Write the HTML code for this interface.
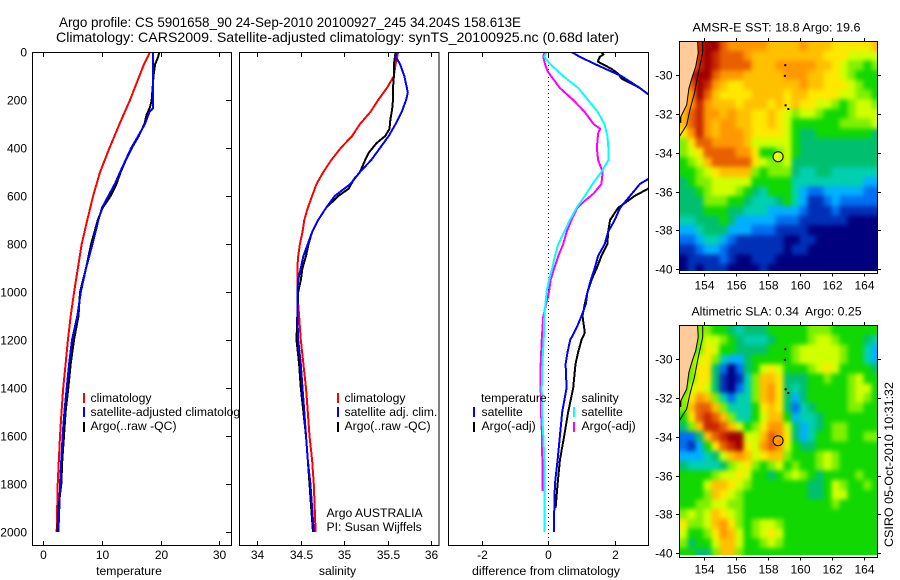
<!DOCTYPE html>
<html lang="en">
<head>
<meta charset="utf-8">
<title>Argo profile</title>
<style>
html,body{margin:0;padding:0;background:#fff;width:900px;height:580px;overflow:hidden}
svg{display:block}
text{font-family:"Liberation Sans",sans-serif;font-size:12.2px;fill:#000}
.t14{font-size:14px}
.mid{text-anchor:middle}
.end{text-anchor:end}
.tl{font-size:12px}
</style>
</head>
<body>
<svg id="fig" xmlns="http://www.w3.org/2000/svg" width="900" height="580" viewBox="0 0 900 580">
<defs>
<clipPath id="clipT"><rect x="32" y="52" width="199" height="494"/></clipPath>
<clipPath id="clipS"><rect x="239" y="52" width="200" height="494"/></clipPath>
<clipPath id="clipD"><rect x="448" y="52" width="200" height="494"/></clipPath>
<clipPath id="clipM1"><rect x="679" y="41" width="198" height="230"/></clipPath>
<clipPath id="clipM2"><rect x="679" y="325" width="198" height="230"/></clipPath>
<filter id="soft" filterUnits="userSpaceOnUse" x="640" y="0" width="260" height="580" color-interpolation-filters="sRGB"><feGaussianBlur stdDeviation="2.5"/></filter>
</defs>
<rect width="900" height="580" fill="#fff"/>
<text class="t14" x="59" y="27" textLength="462" lengthAdjust="spacingAndGlyphs">Argo profile: CS 5901658_90 24-Sep-2010 20100927_245 34.204S 158.613E</text>
<text class="t14" x="56" y="42" textLength="563" lengthAdjust="spacingAndGlyphs">Climatology: CARS2009. Satellite-adjusted climatology: synTS_20100925.nc (0.68d later)</text>

<g id="panelT">
<rect x="32.5" y="52.5" width="199" height="493" fill="#fff"/>
<g id="linesT" clip-path="url(#clipT)"></g>
<rect x="32.5" y="52.5" width="199" height="493" fill="none" stroke="#000"/>
<g id="ticksT"></g>
<text class="mid" x="129" y="575">temperature</text>
<rect x="83" y="393" width="2" height="10" fill="#f00"/>
<rect x="83" y="407" width="2" height="10" fill="#00f"/>
<rect x="83" y="422" width="2" height="10" fill="#000"/>
<text x="90.5" y="402">climatology</text>
<text x="90.5" y="416">satellite-adjusted climatology</text>
<text x="90.5" y="430">Argo(..raw -QC)</text>
</g>

<g id="panelS">
<rect x="239.5" y="52.5" width="199.5" height="493" fill="#fff"/>
<g id="linesS" clip-path="url(#clipS)"></g>
<rect x="239.5" y="52.5" width="199.5" height="493" fill="none" stroke="#000"/>
<g id="ticksS"></g>
<text class="mid" x="337.5" y="575">salinity</text>
<rect x="337" y="393" width="2" height="10" fill="#f00"/>
<rect x="337" y="407" width="2" height="10" fill="#00f"/>
<rect x="337" y="422" width="2" height="10" fill="#000"/>
<text x="344.5" y="402">climatology</text>
<text x="344.5" y="416">satellite adj. clim.</text>
<text x="344.5" y="430">Argo(..raw -QC)</text>
<text x="326.5" y="517">Argo AUSTRALIA</text>
<text x="326.5" y="531">PI: Susan Wijffels</text>
</g>

<g id="panelD">
<rect x="448.5" y="52.5" width="200" height="493" fill="#fff"/>
<line x1="548.5" x2="548.5" y1="53" y2="545" stroke="#000" stroke-dasharray="1 3"/>
<g id="linesD" clip-path="url(#clipD)"></g>
<rect x="448.5" y="52.5" width="200" height="493" fill="none" stroke="#000"/>
<g id="ticksD"></g>
<text class="mid" x="546" y="575" textLength="148" lengthAdjust="spacingAndGlyphs">difference from climatology</text>
<text x="481" y="402">temperature</text>
<rect x="473" y="407" width="2" height="10" fill="#00f"/>
<rect x="473" y="422" width="2" height="10" fill="#000"/>
<text x="481.5" y="416">satellite</text>
<text x="481.5" y="430">Argo(-adj)</text>
<text x="581.5" y="402">salinity</text>
<rect x="573" y="407" width="2" height="10" fill="#0ff"/>
<rect x="573" y="422" width="2" height="10" fill="#f0f"/>
<text x="581.5" y="416">satellite</text>
<text x="581.5" y="430">Argo(-adj)</text>
</g>

<g id="map1">
<text class="mid" x="776.5" y="31.5" textLength="168" lengthAdjust="spacingAndGlyphs">AMSR-E SST: 18.8 Argo: 19.6</text>
<g clip-path="url(#clipM1)"><g id="cellsM1" filter="url(#soft)"></g></g>
<g id="overM1" clip-path="url(#clipM1)"></g>
<rect x="679.5" y="41.5" width="198" height="232" fill="none" stroke="#000"/>
<g id="ticksM1"></g>
</g>

<g id="map2">
<text class="mid" x="776.5" y="315.5" xml:space="preserve" textLength="170" lengthAdjust="spacingAndGlyphs">Altimetric SLA: 0.34  Argo: 0.25</text>
<g clip-path="url(#clipM2)"><g id="cellsM2" filter="url(#soft)"></g></g>
<g id="overM2" clip-path="url(#clipM2)"></g>
<rect x="679.5" y="325.5" width="198" height="232" fill="none" stroke="#000"/>
<g id="ticksM2"></g>
</g>

<text transform="translate(893 547) rotate(-90)" textLength="165" lengthAdjust="spacingAndGlyphs">CSIRO 05-Oct-2010 10:31:32</text>
</svg>

<script>
// ---------- Temperature profiles ----------
const tempClimDepth = [0,50,100,150,200,300,400,500,600,700,800,900,1000,1100,1200,1300,1400,1500,1600,1800,2000];
const tempClim = [18.2,17.2,16.4,15.6,14.8,13.0,11.3,9.7,8.5,7.5,6.55,5.9,5.25,4.67,4.2,3.8,3.4,3.1,2.85,2.45,2.28];
const tempSatDepth = [0,235,250,300,350,400,500,550,600,650,700,800,900,1000,1100,1200,1300,1400,1500,1600,1700,1800,1900,2000];
const tempSat = [18.7,18.7,18.1,17.35,16.2,15,13.1,12.2,11.1,10,9.4,8.4,7.3,6.4,5.8,4.9,4.4,4,3.6,3.3,3.07,2.85,2.73,2.57];
const tempArgoDepth = [0,20,50,100,200,230,260,300,350,400,450,500,550,600,650,700,800,900,1000,1100,1200,1300,1400,1500,1600,1700,1800,1900,2000];
const tempArgo = [19.8,19.6,19.1,18.8,18.5,18.2,17.65,17.25,16.3,15.1,14.1,13.2,12.5,11.5,10.1,9.3,8.15,7.3,6.26,6,5.24,4.67,4.27,3.8,3.53,3.25,3.07,2.57,2.4];

// ---------- Salinity profiles ----------
const salClimDepth = [0,50,100,150,200,250,300,350,400,450,500,550,600,650,700,750,800,850,900,1000,1100,1200,1300,1400,1500,1600,1700,1800,1900,2000];
const salClim = [35.62,35.59,35.57,35.49,35.39,35.3,35.18,35.09,34.96,34.85,34.76,34.68,34.63,34.58,34.54,34.52,34.49,34.47,34.46,34.46,34.48,34.5,34.53,34.56,34.58,34.6,34.63,34.65,34.66,34.67];
const salSatDepth = [0,20,50,100,150,170,200,250,300,350,400,450,500,550,600,650,700,750,800,850,900,950,1000,1100,1200,1300,1400,1500,1600,1700,1800,1900,2000];
const salSat = [35.6,35.59,35.64,35.69,35.72,35.73,35.71,35.66,35.59,35.51,35.41,35.31,35.18,35.07,34.89,34.79,34.7,34.63,34.58,34.53,34.5,34.47,34.46,34.46,34.47,34.5,34.52,34.54,34.56,34.58,34.61,34.63,34.65];
const salArgoDepth = [0,50,100,150,200,240,280,320,350,380,420,450,500,530,570,600,650,700,750,800,850,900,950,1000,1100,1200,1300,1400,1500,1600,1700,1800,1900,2000];
const salArgo = [35.59,35.57,35.57,35.56,35.56,35.55,35.53,35.52,35.47,35.37,35.28,35.24,35.18,35.11,35.05,34.93,34.79,34.7,34.63,34.59,34.56,34.52,34.5,34.47,34.46,34.45,34.48,34.5,34.53,34.56,34.58,34.6,34.62,34.64];

// ---------- Differences from climatology ----------
const diffTempSatDepth = [0,20,50,100,150,175,200,300,400,500,530,550,600,650,700,750,800,850,900,950,1000,1050,1100,1150,1200,1250,1300,1400,1500,1600,1700,1800,1900,2000];
const diffTempSat = [0.7,0.95,1.4,2.2,2.76,3,3.7,4.35,3.7,3.4,3,2.76,2.46,2.16,2,1.8,1.7,1.5,1.4,1.28,1.18,1.13,1,0.85,0.66,0.58,0.52,0.55,0.42,0.35,0.28,0.2,0.18,0.17];
const diffTempArgoDepth = [0,10,20,40,70,90,110,150,175,200,300,400,500,570,600,650,700,750,800,850,900,950,1000,1050,1100,1150,1170,1200,1250,1300,1400,1500,1600,1700,1800,1900];
const diffTempArgo = [1.6,1.66,1.55,1.49,1.9,2.1,2.2,2.76,3,3.7,4.25,3.8,3.5,3,2.6,2.1,1.86,1.8,1.78,1.6,1.46,1.3,1.18,1.1,1.03,1.08,1.1,1,0.9,0.82,0.75,0.6,0.48,0.35,0.28,0.22];
const diffSalSatDepth = [0,20,50,100,150,200,250,300,350,400,450,500,550,600,650,700,750,800,850,900,950,1000,1100,1200,1300,1400,1500,1600,1700,1800,1900,2000];
const diffSalSat = [-0.05,-0.12,0.05,0.45,0.9,1.2,1.49,1.69,1.78,1.81,1.81,1.6,1.33,1.1,0.85,0.65,0.48,0.3,0.2,0.12,0.02,-0.05,-0.12,-0.14,-0.18,-0.2,-0.19,-0.15,-0.12,-0.12,-0.12,-0.11];
const diffSalArgoDepth = [0,20,50,80,100,150,200,250,300,320,340,400,450,500,550,590,620,650,700,750,800,850,900,950,1000,1060,1100,1200,1300,1400,1500,1600,1700,1830];
const diffSalArgo = [-0.12,-0.15,-0.1,-0.02,0.08,0.35,0.75,1.1,1.36,1.56,1.5,1.46,1.5,1.64,1.6,1.36,1.1,0.87,0.7,0.55,0.45,0.3,0.18,0.07,0.02,-0.08,-0.15,-0.2,-0.23,-0.23,-0.22,-0.19,-0.18,-0.18];

// ---------- Tick labels ----------
const depthTicks = [0,200,400,600,800,1000,1200,1400,1600,1800,2000];
const tempTicks = [0,10,20,30];
const salTicks = [34,34.5,35,35.5,36];
const diffTicks = [-2,0,2];
const lonTicks = [154,156,158,160,162,164];
const latTicks = [-30,-32,-34,-36,-38,-40];

// ---------- Map grids (0.5 degree cells, colour class 0-14) ----------
const sstGrid = [
[10,10,13,14,14,12,11,11,11,11,11,10,10,10,10,11,10,10,10,9,9,9,9,9,10],
[10,10,13,14,13,12,12,12,11,10,10,10,10,10,10,10,10,10,9,9,9,8,8,8,8],
[10,10,13,14,13,12,12,12,12,10,10,10,11,11,11,11,11,10,10,9,8,7,7,6,7],
[10,13,14,14,12,11,11,11,10,10,10,10,10,11,11,11,10,10,9,9,8,7,6,6,6],
[10,12,14,13,11,10,9,9,10,10,10,10,10,10,10,11,10,10,9,9,9,8,7,6,6],
[10,11,14,12,10,9,9,9,9,10,10,10,10,9,10,10,9,9,9,9,8,8,7,7,6],
[10,11,13,11,10,10,10,9,10,10,10,9,10,9,10,9,9,8,8,7,6,7,8,8,7],
[10,12,13,11,11,10,11,10,10,9,9,10,9,8,7,8,8,7,6,6,6,7,8,8,8],
[10,12,13,11,10,11,11,10,10,9,9,10,9,8,6,6,6,6,6,6,7,7,7,7,8],
[9,11,13,11,10,11,11,11,10,9,9,9,9,8,6,5,5,6,6,6,6,6,6,6,5],
[7,9,12,12,11,11,11,11,10,8,8,8,8,8,6,5,5,5,5,5,5,5,5,5,5],
[7,8,9,12,12,12,12,11,11,9,6,6,7,8,6,5,5,5,5,5,5,5,5,5,5],
[6,7,8,10,12,12,12,12,12,9,8,7,7,8,5,5,5,5,5,5,5,5,5,5,5],
[6,6,7,8,9,10,10,10,10,7,6,7,7,7,5,4,4,5,5,4,4,4,4,4,4],
[5,6,7,7,8,8,8,8,8,6,6,6,6,6,4,4,4,4,4,4,4,4,4,3,3],
[5,5,6,7,8,8,8,7,6,5,4,6,6,6,4,3,2,2,3,3,3,3,3,2,2],
[5,5,5,7,7,7,6,6,5,4,4,4,5,6,4,3,1,1,2,3,2,2,2,2,2],
[5,5,5,6,6,6,5,5,4,4,4,3,3,3,3,2,1,1,1,2,1,1,1,1,1],
[4,4,5,5,5,6,5,3,3,3,3,3,2,2,2,1,1,1,1,1,1,0,0,0,0],
[3,3,4,5,5,5,3,3,3,2,2,2,1,1,1,1,0,0,0,0,0,0,0,0,0],
[2,2,3,4,4,3,2,1,1,1,1,1,1,0,0,1,1,0,0,0,0,0,0,0,0],
[1,1,2,3,3,2,1,1,1,1,1,1,1,0,1,1,0,0,0,0,0,0,0,0,0],
[0,1,1,1,1,2,1,0,0,1,1,1,0,0,0,0,0,0,0,0,0,0,0,0,0],
[0,1,0,1,1,1,0,0,0,0,1,0,0,0,0,0,0,0,0,0,0,0,0,0,0]
];
const slaGrid = [
[6,6,7,7,6,6,5,4,5,5,5,6,6,6,6,6,7,7,7,6,6,6,6,6,6],
[6,6,7,8,8,7,6,5,4,4,4,5,6,6,6,6,7,8,8,7,6,6,6,5,4],
[6,6,7,9,8,6,6,5,5,5,5,6,6,6,7,8,8,8,8,8,7,6,6,4,3],
[6,7,8,9,7,4,3,3,5,6,6,6,6,6,7,8,8,8,8,8,7,6,6,4,3],
[6,7,9,9,5,2,0,2,5,6,8,9,8,6,6,6,7,8,9,8,6,6,6,6,5],
[6,7,9,9,5,1,0,1,4,7,10,10,9,5,5,5,6,6,7,6,6,7,8,6,6],
[6,8,9,8,5,1,0,2,4,7,10,11,9,5,4,5,6,6,6,6,6,7,8,8,6],
[7,9,11,10,7,4,2,4,4,7,10,11,9,5,3,5,6,6,6,6,6,7,8,7,6],
[7,10,12,12,10,7,4,4,4,6,9,10,9,5,2,4,5,6,6,6,6,7,7,6,6],
[6,9,12,13,12,10,7,4,4,6,8,10,10,6,3,4,4,5,6,6,6,6,6,6,6],
[5,7,10,13,13,12,10,8,6,7,9,11,11,8,5,3,4,5,6,7,7,6,6,6,6],
[2,2,5,10,12,13,14,14,8,8,10,12,11,9,5,3,4,6,6,7,7,6,6,7,7],
[2,1,3,6,9,12,13,14,9,8,11,12,11,8,6,5,5,6,6,6,6,6,6,6,6],
[3,3,3,4,5,8,10,11,10,8,9,10,10,7,6,6,6,7,8,7,6,6,6,6,6],
[5,4,4,4,4,5,7,8,9,7,6,7,8,6,7,6,6,7,8,7,6,6,6,6,6],
[6,6,6,6,7,8,8,9,8,6,6,5,6,7,8,7,6,5,6,6,6,6,7,6,6],
[6,6,6,8,10,10,9,8,7,6,6,6,6,6,6,6,5,5,6,8,7,6,6,7,6],
[6,6,6,7,10,9,8,7,6,6,6,6,6,6,6,6,5,5,6,8,8,6,6,6,6],
[6,6,7,7,8,8,7,7,6,6,6,6,6,6,6,6,6,6,6,7,6,6,6,6,6],
[7,8,7,8,10,9,8,7,6,6,6,6,6,6,6,6,6,6,6,6,6,6,6,6,6],
[9,7,7,8,10,11,9,7,6,7,8,8,7,6,6,6,6,6,6,6,6,6,6,6,6],
[8,6,6,7,9,11,10,8,6,7,8,9,8,6,6,6,6,6,6,6,6,6,6,6,6],
[7,5,6,6,8,10,10,8,6,6,7,8,7,6,6,6,6,6,6,6,6,6,6,6,6],
[6,6,5,5,7,10,10,7,6,6,6,6,6,6,6,6,6,6,6,6,6,6,6,6,6]
];
const colorClasses = ['#00007f','#0030b8','#0070f0','#00b0ff','#00d0b0','#00c070','#10d800','#80f000','#d0ff00','#ffe800','#ffc000','#ff9800','#e86000','#c82800','#a00000'];

// ---------- Geography (lon/lat) ----------
const coastLon = [153.58,153.62,153.46,153.25,153.04,152.9,152.54,152.44];
const coastLat = [-28.24,-28.86,-29.55,-30.07,-30.67,-31.53,-32.13,-32.3];
const isobathLon = [153.9,153.9,153.62,153.38,153.1,152.9,152.44];
const isobathLat = [-28.24,-28.86,-29.9,-30.93,-31.79,-32.56,-33.17];
const islandLon = [159.06,159.04,159.08,159.25];
const islandLat = [-29.48,-30.03,-31.55,-31.74];
const headlandLon = [152.5];
const headlandLat = [-32.3];
const floatLon = 158.613;
const floatLat = -34.204;

const NS = 'http://www.w3.org/2000/svg';
const tempX = v => 43.3 + 5.86 * v;
const salX = v => 257.3 + 87 * (v - 34);
const diffX = v => 548.3 + 33.2 * v;
const depthY = d => 52 + 0.24 * d;
const lonX = l => 704.3 + 16 * (l - 154);
const lat1Y = l => 75.3 + 19.37 * (-30 - l);
const lat2Y = l => 359.3 + 19.37 * (-30 - l);

function el(tag, parent, attrs) {
  const e = document.createElementNS(NS, tag);
  for (const k in attrs) e.setAttribute(k, attrs[k]);
  parent.appendChild(e);
  return e;
}
function byId(id) { return document.getElementById(id); }

function drawLine(groupId, name, xs, depths, xFn, color) {
  const pts = xs.map((v, i) => xFn(v).toFixed(1) + ',' + depthY(depths[i]).toFixed(1)).join(' ');
  const p = el('polyline', byId(groupId), {points: pts, fill: 'none', stroke: color, 'stroke-width': 2, 'shape-rendering': 'crispEdges', 'stroke-linejoin': 'round'});
  
  
}

drawLine('linesT', 'temperature-climatology-line', tempClim, tempClimDepth, tempX, '#f00');
drawLine('linesT', 'temperature-argo-line', tempArgo, tempArgoDepth, tempX, '#000');
drawLine('linesT', 'temperature-satellite-line', tempSat, tempSatDepth, tempX, '#00f');
drawLine('linesS', 'salinity-climatology-line', salClim, salClimDepth, salX, '#f00');
drawLine('linesS', 'salinity-argo-line', salArgo, salArgoDepth, salX, '#000');
drawLine('linesS', 'salinity-satellite-line', salSat, salSatDepth, salX, '#00f');
drawLine('linesD', 'diff-temp-argo-line', diffTempArgo, diffTempArgoDepth, diffX, '#000');
drawLine('linesD', 'diff-temp-satellite-line', diffTempSat, diffTempSatDepth, diffX, '#00f');
drawLine('linesD', 'diff-sal-argo-line', diffSalArgo, diffSalArgoDepth, diffX, '#f0f');
drawLine('linesD', 'diff-sal-satellite-line', diffSalSat, diffSalSatDepth, diffX, '#0ff');

function tick(parent, name, x1, y1, x2, y2) {
  const t = el('line', parent, {x1: x1, y1: y1, x2: x2, y2: y2, stroke: '#000'});
  
  
}
function label(parent, name, x, y, txt, cls) {
  const t = el('text', parent, {x: x, y: y, class: cls + ' tl'});
  t.textContent = txt;
  
  
}
function profileXTicks(groupId, ticks, xFn, prefix) {
  const g = byId(groupId);
  ticks.forEach(v => {
    const x = Math.round(xFn(v)) + 0.5;
    tick(g, prefix + '-x-tick', x, 53, x, 57);
    tick(g, prefix + '-x-tick', x, 541, x, 545);
    label(g, prefix + '-x-tick-label', x, 559, String(v), 'mid');
  });
}
profileXTicks('ticksT', tempTicks, tempX, 'temperature');
profileXTicks('ticksS', salTicks, salX, 'salinity');
profileXTicks('ticksD', diffTicks, diffX, 'difference');
depthTicks.forEach(d => {
  const y = Math.round(depthY(d)) + 0.5;
  tick(byId('ticksT'), 'depth-tick', 226, y, 231, y);
  label(byId('ticksT'), 'depth-tick-label', 27, y + 4, String(d), 'end');
});

function drawCells(groupId, grid, yFn, name) {
  const g = byId(groupId);
  const west = 152.44, north = -28.24;
  const lastRow = grid.length - 1;
  grid.forEach((row, r) => {
    const lastCol = row.length - 1;
    row.forEach((v, c) => {
      // outer cells bleed past the clip so the smoothing does not fade at the map edge
      const x0 = lonX(west + c * 0.5) - (c === 0 ? 12 : 0);
      const x1 = lonX(west + (c + 1) * 0.5) + (c === lastCol ? 12 : 0);
      const y0 = yFn(north - r * 0.5) - (r === 0 ? 12 : 0);
      const y1 = yFn(north - (r + 1) * 0.5) + (r === lastRow ? 12 : 0);
      const cell = el('rect', g, {x: x0.toFixed(2), y: y0.toFixed(2), width: (x1 - x0 + 0.5).toFixed(2), height: (y1 - y0 + 0.5).toFixed(2), fill: colorClasses[v], 'shape-rendering': 'crispEdges'});
      
      
    });
  });
}
drawCells('cellsM1', sstGrid, lat1Y, 'sst-cell');
drawCells('cellsM2', slaGrid, lat2Y, 'sla-cell');

function drawOverlay(groupId, tickId, yFn, topY, bottomY, floatColor, prefix) {
  const g = byId(groupId);
  const pts = coastLon.map((l, i) => lonX(l).toFixed(1) + ',' + yFn(coastLat[i]).toFixed(1));
  const land = el('polygon', g, {points: '679,' + topY + ' ' + pts.join(' ') + ' 679,' + yFn(coastLat[coastLat.length - 1]).toFixed(1), fill: '#ffcc99', stroke: '#000', 'stroke-width': 1});
  
  
  const iso = el('polyline', g, {points: isobathLon.map((l, i) => lonX(l).toFixed(1) + ',' + yFn(isobathLat[i]).toFixed(1)).join(' '), fill: 'none', stroke: '#000', 'stroke-width': 1});
  
  
  headlandLon.forEach((l, i) => {
    const h = el('rect', g, {x: (lonX(l) - 2).toFixed(1), y: (yFn(headlandLat[i]) - 3).toFixed(1), width: 3, height: 6, fill: '#000'});
    
    
  });
  islandLon.forEach((l, i) => {
    const d = el('rect', g, {x: (lonX(l) - 1).toFixed(1), y: (yFn(islandLat[i]) - 1).toFixed(1), width: 2, height: 2, fill: '#000'});
    
    
  });
  const c = el('circle', g, {cx: lonX(floatLon).toFixed(1), cy: yFn(floatLat).toFixed(1), r: 5, fill: floatColor, stroke: '#000', 'stroke-width': 1});
  
  

  const tg = byId(tickId);
  lonTicks.forEach(v => {
    const x = Math.round(lonX(v)) + 0.5;
    tick(tg, prefix + '-lon-tick', x, topY - 3, x, topY);
    tick(tg, prefix + '-lon-tick', x, bottomY, x, bottomY + 3);
    label(tg, prefix + '-lon-label', x, bottomY + 16, String(v), 'mid');
  });
  latTicks.forEach(v => {
    const y = Math.round(yFn(v)) + 0.5;
    tick(tg, prefix + '-lat-tick', 676, y, 679, y);
    tick(tg, prefix + '-lat-tick', 878, y, 881, y);
    label(tg, prefix + '-lat-label', 672.5, y + 4, String(v), 'end');
  });
}
drawOverlay('overM1', 'ticksM1', lat1Y, 41, 273.5, '#e0ff10', 'sst');
drawOverlay('overM2', 'ticksM2', lat2Y, 325, 557.5, '#ff9c00', 'sla');
</script>
</body>
</html>
